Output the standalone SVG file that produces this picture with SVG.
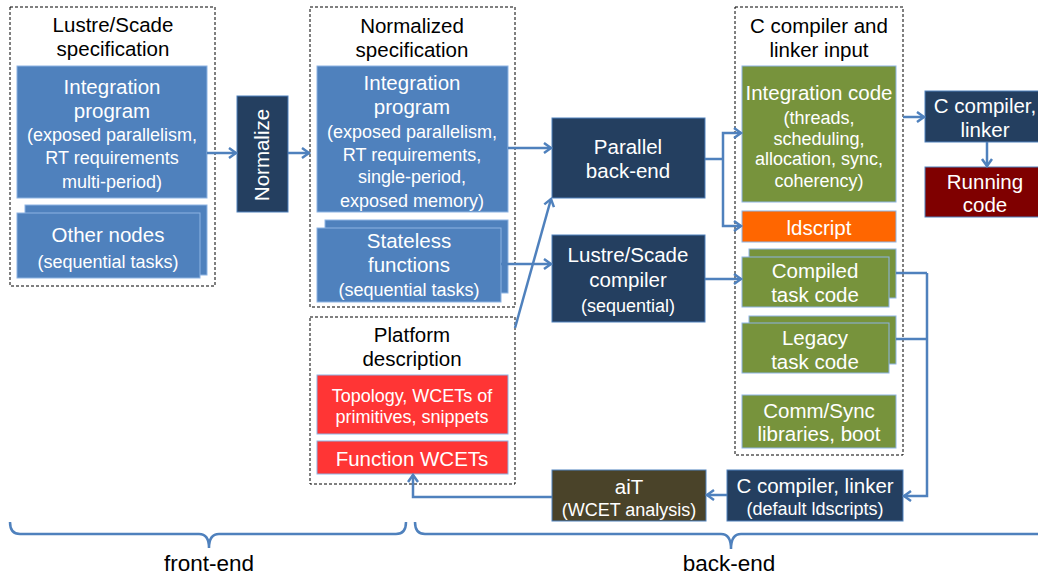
<svg xmlns="http://www.w3.org/2000/svg" width="1038" height="577" viewBox="0 0 1038 577">
<style>
text{font-family:"Liberation Sans",Arial,sans-serif;text-anchor:middle}
.t{font-size:20.5px;fill:#000}
.lb{font-size:22.5px;fill:#000}
.w{font-size:20.5px;fill:#fff}
.s{font-size:18px;fill:#fff}
.grp{fill:#fff;stroke:#000;stroke-width:1;stroke-dasharray:3,2}
.blue{fill:#4f81bd;stroke:#8eb4e3;stroke-width:1}
.navy{fill:#243f60;stroke:#4f81bd;stroke-width:1}
.green{fill:#77933c;stroke:#8eb4e3;stroke-width:1}
.orange{fill:#ff6600;stroke:#8eb4e3;stroke-width:1}
.red{fill:#ff3535;stroke:#8eb4e3;stroke-width:1}
.dred{fill:#7f0000;stroke:#4f81bd;stroke-width:1}
.olive{fill:#4a4329;stroke:#4f81bd;stroke-width:1}
.c{fill:none;stroke:#4f81bd;stroke-width:2.5}
.a{marker-end:url(#ah)}
</style>
<defs>
<marker id="ah" markerUnits="userSpaceOnUse" markerWidth="14" markerHeight="14" refX="10" refY="6" orient="auto">
<path d="M3,1 L10,6 L3,11" fill="none" stroke="#4f81bd" stroke-width="2.5"/>
</marker>
</defs>

<g id="lustre-spec">
<rect class="grp" x="10" y="7" width="205" height="279"/>
<text class="t" x="113" y="32">Lustre/Scade</text>
<text class="t" x="113" y="56">specification</text>
</g>
<g id="integration-program-1">
<rect class="blue" x="17" y="66" width="190" height="132"/>
<text class="w" x="112" y="94">Integration</text>
<text class="w" x="112" y="118">program</text>
<text class="s" x="112" y="141">(exposed parallelism,</text>
<text class="s" x="112" y="164">RT requirements</text>
<text class="s" x="112" y="188">multi-period)</text>
</g>
<g id="other-nodes">
<rect class="blue" x="25" y="205" width="182" height="70"/>
<rect class="blue" x="17" y="213" width="183" height="65"/>
<text class="w" x="108" y="242">Other nodes</text>
<text class="s" x="108" y="268">(sequential tasks)</text>
</g>
<g id="normalize">
<rect class="navy" x="237" y="96" width="51" height="116"/>
<text class="w" transform="translate(269,155) rotate(-90)">Normalize</text>
</g>

<g id="normalized-spec">
<rect class="grp" x="310" y="7" width="205" height="300"/>
<text class="t" x="412" y="33">Normalized</text>
<text class="t" x="412" y="57">specification</text>
</g>
<g id="integration-program-2">
<rect class="blue" x="317" y="66" width="191" height="146"/>
<text class="w" x="412" y="90">Integration</text>
<text class="w" x="412" y="114">program</text>
<text class="s" x="412" y="138">(exposed parallelism,</text>
<text class="s" x="412" y="161">RT requirements,</text>
<text class="s" x="412" y="183">single-period,</text>
<text class="s" x="412" y="207">exposed memory)</text>
</g>
<g id="stateless">
<rect class="blue" x="325" y="220" width="183" height="73"/>
<rect class="blue" x="317" y="228" width="184" height="74"/>
<text class="w" x="409" y="248">Stateless</text>
<text class="w" x="409" y="272">functions</text>
<text class="s" x="409" y="296">(sequential tasks)</text>
</g>

<g id="platform">
<rect class="grp" x="310" y="317" width="205" height="167"/>
<text class="t" x="412" y="342">Platform</text>
<text class="t" x="412" y="366">description</text>
</g>
<g id="topology">
<rect class="red" x="317" y="375" width="191" height="59"/>
<text class="s" x="412" y="402">Topology, WCETs of</text>
<text class="s" x="412" y="423">primitives, snippets</text>
</g>
<g id="function-wcets">
<rect class="red" x="317" y="441" width="191" height="33"/>
<text class="w" x="412" y="466">Function WCETs</text>
</g>

<g id="parallel-backend">
<rect class="navy" x="552" y="118" width="153" height="80"/>
<text class="w" x="628" y="154">Parallel</text>
<text class="w" x="628" y="178">back-end</text>
</g>
<g id="lustre-compiler">
<rect class="navy" x="552" y="235" width="153" height="87"/>
<text class="w" x="628" y="262">Lustre/Scade</text>
<text class="w" x="628" y="287">compiler</text>
<text class="s" x="628" y="312">(sequential)</text>
</g>

<g id="c-input">
<rect class="grp" x="735" y="7" width="168" height="448"/>
<text class="t" x="819" y="33">C compiler and</text>
<text class="t" x="819" y="57">linker input</text>
</g>
<g id="integration-code">
<rect class="green" x="742" y="66" width="154" height="136"/>
<text class="w" x="819" y="100">Integration code</text>
<text class="s" x="819" y="124">(threads,</text>
<text class="s" x="819" y="145">scheduling,</text>
<text class="s" x="819" y="165">allocation, sync,</text>
<text class="s" x="819" y="187">coherency)</text>
</g>
<g id="ldscript">
<rect class="orange" x="742" y="211" width="154" height="31"/>
<text class="w" x="819" y="235">ldscript</text>
</g>
<g id="compiled-task-code">
<rect class="green" x="749" y="249" width="147" height="49"/>
<rect class="green" x="742" y="257" width="147" height="50"/>
<text class="w" x="815" y="278">Compiled</text>
<text class="w" x="815" y="302">task code</text>
</g>
<g id="legacy-task-code">
<rect class="green" x="749" y="316" width="147" height="48"/>
<rect class="green" x="742" y="323" width="147" height="50"/>
<text class="w" x="815" y="345">Legacy</text>
<text class="w" x="815" y="369">task code</text>
</g>
<g id="comm-sync">
<rect class="green" x="742" y="395" width="154" height="53"/>
<text class="w" x="819" y="418">Comm/Sync</text>
<text class="w" x="819" y="441">libraries, boot</text>
</g>

<g id="c-compiler-top">
<rect class="navy" x="925" y="91" width="116" height="51"/>
<text class="w" x="985" y="113">C compiler,</text>
<text class="w" x="985" y="137">linker</text>
</g>
<g id="running-code">
<rect class="dred" x="925" y="167" width="116" height="50"/>
<text class="w" x="985" y="189">Running</text>
<text class="w" x="985" y="212">code</text>
</g>

<g id="c-compiler-bottom">
<rect class="navy" x="727" y="470" width="176" height="51"/>
<text class="w" x="815" y="493">C compiler, linker</text>
<text class="s" x="815" y="515">(default ldscripts)</text>
</g>
<g id="ait">
<rect class="olive" x="552" y="470" width="154" height="51"/>
<text class="w" x="629" y="494">aiT</text>
<text class="s" x="629" y="516">(WCET analysis)</text>
</g>

<g id="connectors">
<path class="c a" d="M207,153 L236,153"/>
<path class="c a" d="M288,153 L309,153"/>
<path class="c a" d="M508,148 L551,148"/>
<path class="c a" d="M501,264 L551,264"/>
<path class="c a" d="M515,328 L551,199"/>
<path class="c" d="M705,159 L723,159"/>
<path class="c a" d="M723,159 L723,133 L741,133"/>
<path class="c a" d="M723,159 L723,226 L741,226"/>
<path class="c a" d="M705,279 L741,279"/>
<path class="c a" d="M903,117 L924,117"/>
<path class="c a" d="M987,142 L987,166"/>
<path class="c" d="M896,273 L927,273"/>
<path class="c" d="M896,339 L927,339"/>
<path class="c a" d="M927,273 L927,496 L904,496"/>
<path class="c a" d="M727,495 L707,495"/>
<path class="c a" d="M552,497 L413,497 L413,475"/>
<path class="c" d="M10,522 Q10,534 20,534 L199,534 Q209,534 209,548 Q209,534 219,534 L396,534 Q406,534 406,522"/>
<path class="c" d="M415,522 Q415,534 425,534 L721,534 Q731,534 731,549 Q731,534 741,534 L1045,534"/>
</g>
<g id="labels">
<text class="lb" x="209" y="571">front-end</text>
<text class="lb" x="729" y="571">back-end</text>
</g>
</svg>
